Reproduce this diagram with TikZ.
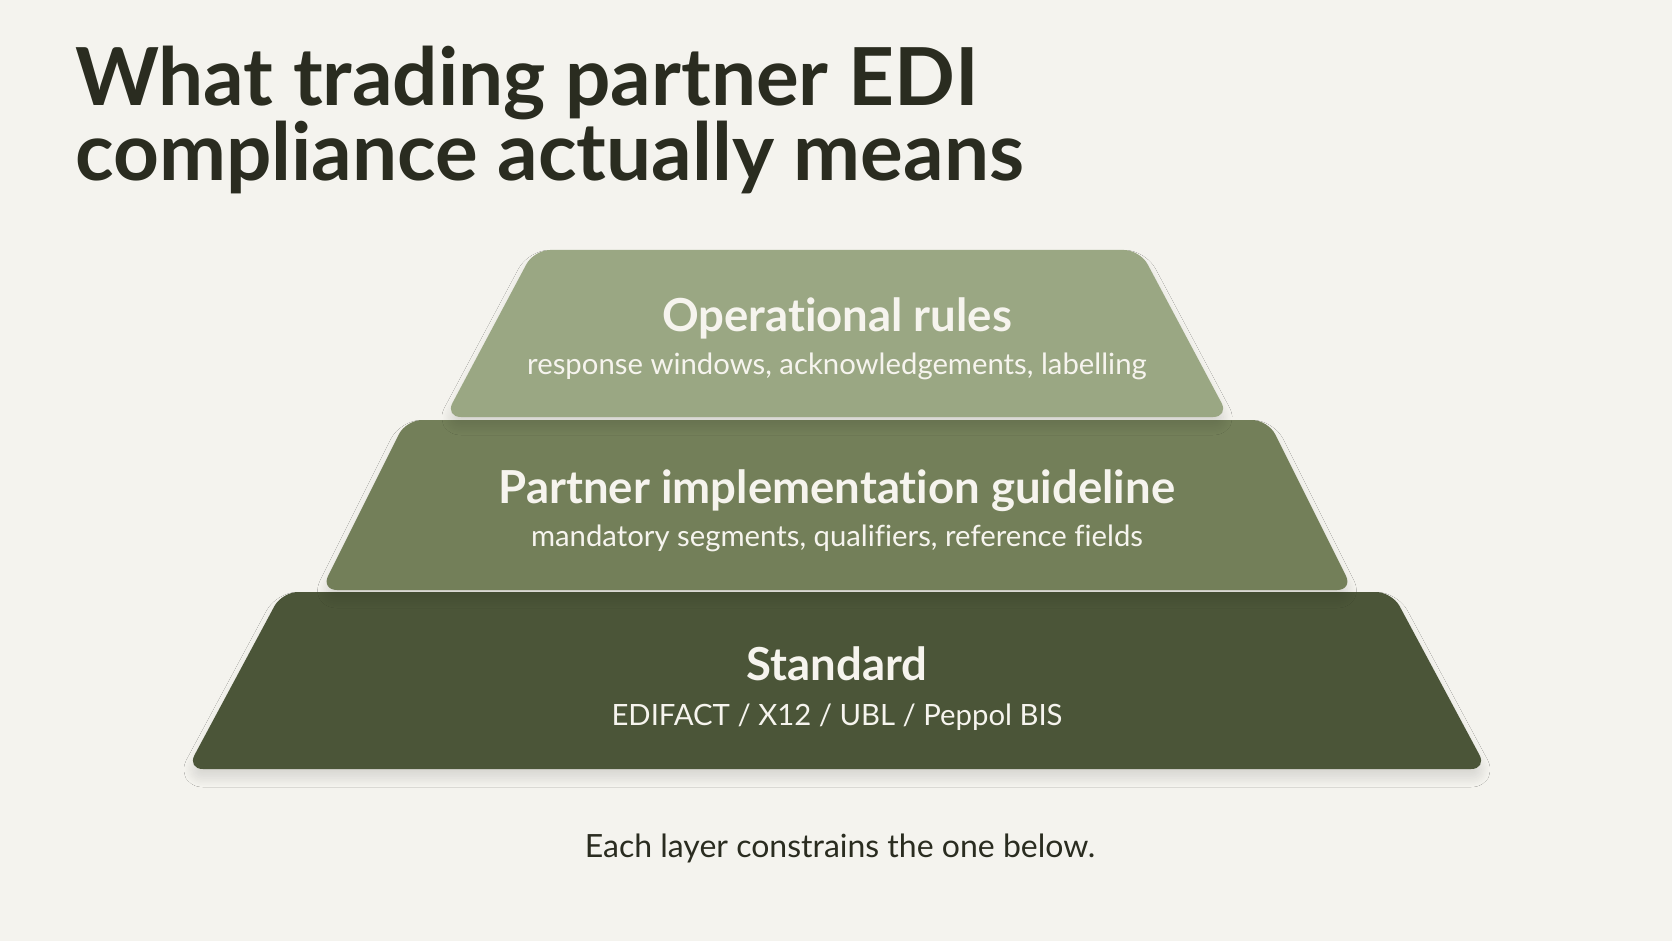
\documentclass[tikz,border=0pt]{standalone}
\usepackage{fontspec}
\setmainfont{Lato}[Ligatures=NoCommon]
\usetikzlibrary{shadows.blur}

\definecolor{paper}{HTML}{F4F3EE}
\definecolor{ink}{HTML}{2A2C20}
\definecolor{sage}{HTML}{9AA783}
\definecolor{moss}{HTML}{737F59}
\definecolor{olive}{HTML}{4B5538}
\definecolor{chalk}{HTML}{F6F4EE}

\begin{document}
\begin{tikzpicture}[x=1pt,y=-1pt,
                        tier/.style={
                        rounded corners=16pt,
                        blur shadow={shadow xshift=0pt, shadow yshift=-9pt,
                        shadow blur radius=9pt, shadow blur steps=24, shadow opacity=12}},
                        tiername/.style={text=chalk, font=\bfseries\fontsize{45.5}{50}\selectfont},
                        tiernote/.style={text=chalk, font=\fontsize{29.3}{32}\selectfont}]
                        \fill[paper] (0,0) rectangle (1672,941);
                        \useasboundingbox (0,0) rectangle (1672,941);
                        % title
                        \node [anchor=base west, text=ink, font=\bfseries\fontsize{80}{82}\selectfont, inner sep=0pt] (title1) at (75,106) {What trading partner EDI};
                        \node [anchor=base west, text=ink, font=\bfseries\fontsize{80}{82}\selectfont, inner sep=0pt] (title2) at (75,181) {compliance actually means};
                        % pyramid, bottom first
                        \fill [tier, olive] (282,592) -- (1392,592) -- (1487,769) -- (187,769) -- cycle;
                        \fill [tier, moss] (406,420) -- (1268,420) -- (1353,590) -- (321,590) -- cycle;
                        \fill [tier, sage] (534,250) -- (1140,250) -- (1229,417) -- (445,417) -- cycle;
                        \node [tiername] (ops) at (837,318) {Operational rules};
                        \node [tiernote] (opsnote) at (837,366) {response windows, acknowledgements, labelling};
                        \node [tiername] (pig) at (837,491) {Partner implementation guideline};
                        \node [tiernote] (pignote) at (837,538) {mandatory segments, qualifiers, reference fields};
                        \node [tiername] (std) at (837,664) {Standard};
                        \node [tiernote] (stdnote) at (837,717) {EDIFACT / X12 / UBL / Peppol BIS};
                        \node [text=ink, font=\fontsize{32}{36}\selectfont] (caption) at (840,848) {Each layer constrains the one below.};
\end{tikzpicture}
\end{document}
